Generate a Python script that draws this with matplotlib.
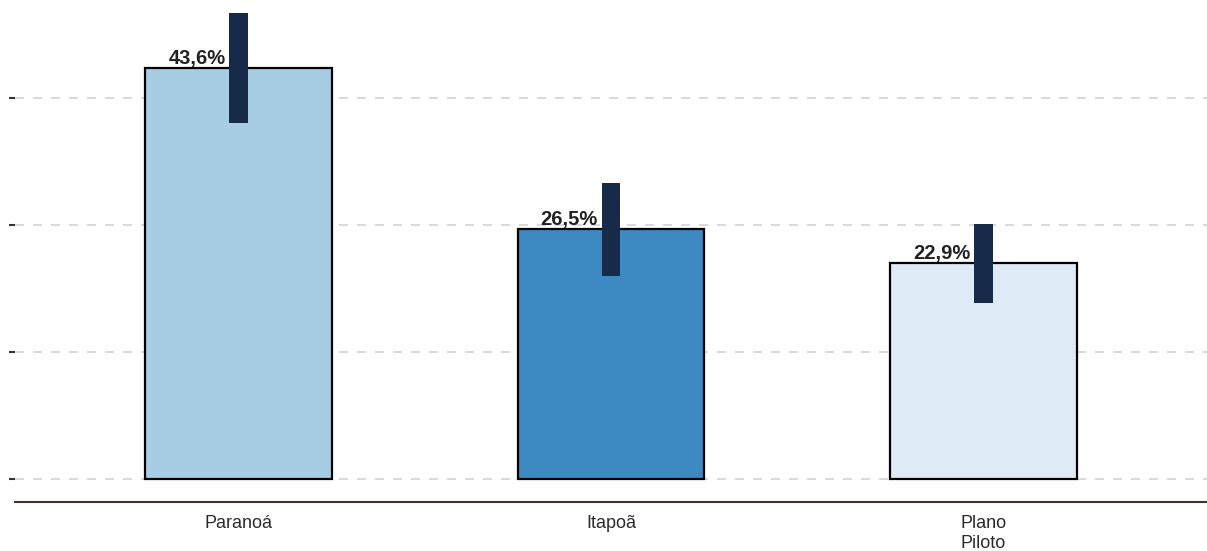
import matplotlib.pyplot as plt

# dados
regioes = ["Paranoá", "Itapoã", "Plano\nPiloto"]
valores = [43.6, 26.5, 22.9]
rotulos = ["43,6%", "26,5%", "22,9%"]
ic_inf = [37.75, 21.5, 18.7]
ic_sup = [49.4, 31.4, 27.0]
cores = ["#a6cde3", "#3d89c1", "#deebf7"]
grade_y = [0, 13.47, 26.94, 40.41]

plt.rcParams["font.family"] = ["Liberation Sans", "DejaVu Sans"]

fig = plt.figure(figsize=(12.07, 5.51), dpi=100)
ax = fig.add_axes([15 / 1207, 49 / 551, 1192 / 1207, 502 / 551])

x = list(range(len(regioes)))

ax.bar(x, valores, width=0.5, color=cores, edgecolor="black", linewidth=1.6, zorder=2)

# intervalo de confianca como barra grossa
alturas = [s - i for s, i in zip(ic_sup, ic_inf)]
ax.bar(x, alturas, bottom=ic_inf, width=0.051, color="#172a4a", zorder=3)

for xi, v, r in zip(x, valores, rotulos):
    ax.text(xi - 0.035, v + 0.45, r, ha="right", va="baseline",
            fontsize=14.5, fontweight="bold", color="#222222", zorder=4)

ax.set_xlim(-0.6, 2.6)
ax.set_ylim(-2.44, 50.8)

ax.set_yticks(grade_y)
ax.set_yticklabels([])
ax.tick_params(axis="y", length=4.5, width=1.5, color="#333333")
ax.yaxis.grid(True, color="#d9d9d9", linewidth=1.44, linestyle=(0, (4.5, 4.5)), zorder=0)
ax.set_axisbelow(True)

ax.set_xticks(x)
ax.set_xticklabels(regioes, fontsize=13, color="#2b2b2b", linespacing=1.25)
ax.tick_params(axis="x", length=0, pad=9)

for lado in ["left", "right", "top"]:
    ax.spines[lado].set_visible(False)
ax.spines["bottom"].set_color("#3d3530")
ax.spines["bottom"].set_linewidth(1.5)

fig.savefig("out.png", dpi=100)
